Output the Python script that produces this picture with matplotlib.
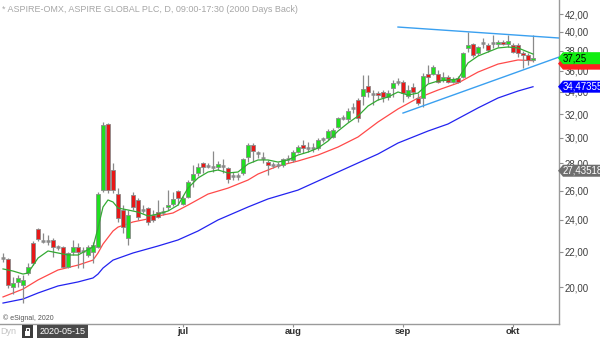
import numpy as np
import matplotlib.pyplot as plt
from matplotlib.patches import Polygon, Rectangle
from matplotlib.transforms import IdentityTransform

plt.rcParams['font.family'] = ['Liberation Sans', 'DejaVu Sans']

# daily candles ASPIRE-OMX, 2020-05-11 .. 2020-10-07
opens = [21.67, 21.58, 20.00, 20.28, 20.11, 20.78, 22.54, 23.41, 22.67, 22.67,
         22.73, 22.30, 22.30, 21.12, 22.00, 22.30, 22.06, 21.82, 22.00, 22.30,
         26.03, 31.15, 27.49, 25.75, 24.66, 22.85, 25.68, 25.34, 24.66, 24.79,
         24.32, 24.52, 24.52, 24.86, 25.06, 25.96, 25.06, 25.54, 26.75, 27.27,
         28.02, 27.79, 27.71, 27.71, 27.79, 27.64, 27.05, 27.05, 27.27, 28.48,
         29.42, 28.79, 28.40, 28.09, 27.86, 27.86, 27.86, 28.33, 28.25, 28.86,
         29.42, 29.18, 29.18, 29.18, 29.90, 29.98, 30.07, 30.89, 31.66, 31.58,
         32.54, 33.25, 33.61, 34.53, 33.79, 33.88, 33.98, 33.52, 34.34, 34.91,
         34.91, 33.61, 34.44, 33.43, 33.43, 35.67, 35.67, 35.67, 35.10, 35.39,
         34.91, 35.29, 35.39, 38.30, 38.71, 37.77, 38.82, 38.61, 38.82, 38.71,
         38.93, 38.71, 38.61, 38.61, 37.77, 37.57, 37.07]
highs = [21.94, 21.64, 20.55, 20.66, 20.66, 21.35, 22.67, 23.48, 23.16, 23.04,
         22.85, 22.42, 22.36, 22.00, 22.73, 22.54, 22.30, 22.42, 22.60, 25.89,
         31.32, 31.23, 28.02, 26.17, 24.99, 24.66, 25.89, 25.48, 24.99, 24.86,
         24.66, 25.34, 24.86, 26.03, 25.89, 26.03, 25.61, 26.75, 27.86, 28.02,
         28.09, 28.02, 28.94, 28.17, 28.33, 27.71, 27.34, 27.27, 28.40, 29.58,
         29.58, 28.94, 28.86, 28.25, 28.09, 28.09, 28.40, 28.63, 29.02, 29.42,
         29.82, 29.66, 29.58, 29.98, 30.07, 30.72, 30.81, 31.75, 31.92, 32.54,
         32.98, 33.43, 35.58, 35.58, 34.16, 34.07, 34.16, 34.16, 35.10, 35.29,
         35.10, 34.63, 34.82, 33.88, 35.77, 36.56, 36.56, 36.07, 35.87, 35.58,
         35.39, 35.48, 37.88, 40.00, 38.82, 38.51, 39.35, 38.82, 39.67, 39.14,
         39.14, 39.67, 38.82, 38.82, 37.98, 37.77, 39.67]
lows = [21.40, 19.95, 19.62, 20.00, 19.15, 20.66, 21.23, 22.67, 22.54, 22.42,
        21.70, 22.12, 21.06, 21.06, 21.82, 21.06, 21.06, 21.70, 21.35, 22.24,
        25.89, 25.82, 25.82, 23.87, 23.16, 22.42, 24.66, 24.00, 24.46, 23.67,
        23.87, 24.13, 24.32, 24.66, 24.92, 24.99, 24.99, 25.48, 26.25, 27.05,
        27.27, 27.64, 27.34, 27.49, 27.27, 26.53, 26.75, 26.75, 27.12, 28.09,
        28.09, 28.40, 28.02, 27.12, 27.64, 27.64, 27.71, 28.02, 28.09, 28.79,
        28.79, 28.86, 28.86, 29.02, 29.66, 29.82, 29.98, 30.81, 31.49, 31.32,
        32.10, 31.32, 32.80, 33.52, 32.80, 33.25, 33.07, 33.25, 33.52, 34.63,
        33.07, 33.43, 33.43, 32.80, 32.62, 34.82, 35.58, 34.82, 34.91, 34.82,
        34.82, 34.82, 35.29, 37.88, 37.37, 37.57, 38.30, 37.88, 38.30, 38.40,
        38.61, 38.40, 37.77, 37.37, 36.27, 36.56, 36.87]
closes = [21.67, 20.11, 20.22, 20.50, 20.39, 21.12, 21.35, 22.79, 22.67, 22.67,
          22.30, 22.30, 21.12, 21.94, 22.30, 22.00, 22.06, 22.30, 22.42, 25.75,
          31.06, 26.03, 26.03, 24.13, 23.54, 24.32, 24.86, 24.19, 24.66, 23.87,
          24.00, 24.19, 24.52, 24.99, 25.41, 25.48, 25.48, 26.61, 27.19, 27.71,
          27.71, 27.79, 27.71, 27.94, 27.79, 26.82, 27.05, 27.05, 28.33, 29.42,
          28.94, 28.79, 28.40, 27.86, 27.86, 27.86, 28.33, 28.33, 28.86, 29.26,
          29.18, 29.18, 29.18, 29.82, 29.90, 30.56, 30.64, 31.66, 31.66, 32.27,
          32.54, 31.66, 34.25, 33.98, 33.79, 33.70, 33.52, 33.88, 34.82, 34.91,
          33.88, 34.16, 33.98, 32.98, 35.48, 35.39, 36.36, 34.91, 35.39, 34.91,
          35.20, 34.91, 37.77, 38.61, 37.57, 38.40, 38.82, 38.09, 38.82, 38.93,
          38.71, 39.03, 37.88, 37.77, 37.57, 37.07, 37.25]

# moving averages (bar index, value)
green_idx = [0, 2, 4, 5, 7, 9, 11, 13, 15, 18, 19, 20, 21, 22, 23, 25, 27, 29, 31, 33,
             35, 37, 39, 41, 43, 45, 47, 49, 51, 53, 55, 57, 59, 61, 63, 65, 67, 69, 71, 73,
             75, 77, 79, 81, 83, 85, 87, 89, 91, 92, 93, 95, 97, 99, 101, 103, 105, 106]
green_ma = [21.01, 20.89, 20.72, 20.78, 21.64, 22.06, 21.94, 21.82, 21.82, 22.30,
            23.48, 24.86, 25.34, 25.20, 24.79, 24.66, 24.52, 24.26, 24.39, 24.59,
            24.99, 26.17, 26.90, 27.34, 27.49, 27.27, 27.34, 27.94, 28.25, 28.25,
            28.09, 28.25, 28.63, 28.86, 29.18, 29.74, 30.56, 31.23, 31.83, 32.71,
            33.25, 33.52, 33.98, 33.70, 33.88, 34.72, 35.01, 35.10, 35.20, 35.97,
            36.77, 37.47, 37.88, 38.30, 38.40, 38.30, 37.88, 37.67]
red_idx = [0, 4, 7, 11, 15, 18, 19, 20, 22, 23, 26, 29, 31, 34, 37, 41, 45, 49, 51, 53,
           55, 59, 63, 67, 71, 75, 79, 83, 87, 91, 95, 99, 103, 106]
red_ma = [19.47, 19.89, 20.39, 20.95, 21.23, 21.52, 21.94, 22.48, 23.29, 23.54,
          23.87, 24.07, 24.26, 24.46, 24.99, 25.75, 26.17, 26.75, 27.19, 27.49,
          27.79, 28.17, 28.63, 29.26, 30.07, 31.32, 32.45, 33.43, 34.16, 34.82,
          35.87, 36.66, 37.07, 37.00]
blue_idx = [0, 4, 7, 11, 15, 18, 19, 20, 22, 26, 31, 35, 39, 43, 49, 53, 59, 63, 67, 71,
            75, 79, 85, 89, 95, 99, 103, 106]
blue_ma = [19.15, 19.36, 19.68, 20.06, 20.28, 20.50, 20.72, 21.06, 21.52, 21.94,
           22.36, 22.73, 23.29, 24.00, 24.86, 25.41, 26.03, 26.68, 27.34, 28.02,
           28.71, 29.58, 30.56, 31.15, 32.54, 33.43, 34.07, 34.47]

# trend lines (bar index, price)
upper_idx = [79, 112]
upper_val = [40.54, 39.32]
lower_idx = [80, 112]
lower_val = [32.09, 37.51]

# right side price flags
flag_vals = [37.00, 37.25, 34.47355, 27.43518]
flag_text = ['', '37,25', '34,47355', '27,43518']
flag_fc = ['#ff2020', '#11ee11', '#0000ff', '#6e6e6e']
flag_tc = ['white', 'black', 'white', 'white']

ytick_vals = [20, 22, 24, 26, 28, 30, 32, 34, 36, 38, 40, 42]
ytick_labels = ['%d,00' % v for v in ytick_vals]
month_pos = [15, 36, 58, 80, 102]
month_labels = ['', 'jul', 'aug', 'sep', 'okt']

fig = plt.figure(figsize=(6.0, 3.39), dpi=100)
ax = fig.add_axes([0, 15/339, 559/600, 324/339])

edge = '#8a8a8a'
for i in range(len(closes)):
    o, h, l, c = opens[i], highs[i], lows[i], closes[i]
    ax.vlines(i, l, h, color=edge, lw=0.9, zorder=2)
    if c == o:
        ax.hlines(c, i - 0.32, i + 0.32, color=edge, lw=1.8, zorder=3)
        continue
    col = '#1fe01f' if c > o else '#e81818'
    ax.bar(i, abs(c - o), bottom=min(o, c), width=0.66, color=col,
           edgecolor=edge, lw=0.6, zorder=3)

ax.plot(blue_idx, blue_ma, color='#2323f0', lw=0.9, zorder=1)
ax.plot(red_idx, red_ma, color='#ff4a4a', lw=0.9, zorder=1)
ax.plot(green_idx, green_ma, color='#33aa33', lw=0.9, zorder=4)
ax.plot(upper_idx, upper_val, color='#3aa0f0', lw=1.0, zorder=5)
ax.plot(lower_idx, lower_val, color='#3aa0f0', lw=1.0, zorder=5)

ax.set_yscale('log')
ax.set_xlim(-0.6, 111.2)
ax.set_ylim(18.09, 43.63)
ax.yaxis.tick_right()
ax.set_yticks(ytick_vals, labels=ytick_labels)
ax.set_xticks(month_pos, labels=month_labels)
ax.minorticks_off()
ax.tick_params(axis='y', direction='out', length=3, width=0.8, color='#909090',
               labelsize=7, labelcolor='#404040', pad=1)
ax.tick_params(axis='x', direction='out', length=2.5, width=0.8, color='#909090',
               labelsize=6.8, labelcolor='#303030', pad=0)
for t in ax.get_xticklabels():
    t.set_fontweight('bold')
for s in ['top', 'left']:
    ax.spines[s].set_visible(False)
for s in ['right', 'bottom']:
    ax.spines[s].set_color('#9a9a9a')
    ax.spines[s].set_linewidth(1.0)

# price flags on the right axis, drawn in pixels
x1 = ax.bbox.x1
for v, s, fc, tc in zip(flag_vals, flag_text, flag_fc, flag_tc):
    yp = ax.transData.transform((0, v))[1]
    if s == '':
        yp -= 3
    verts = [(x1 - 1, yp), (x1 + 4, yp + 6), (600, yp + 6), (600, yp - 6), (x1 + 4, yp - 6)]
    fig.add_artist(Polygon(verts, closed=True, fc=fc, ec='none', transform=IdentityTransform(), zorder=10))
    if s:
        fig.text(x1 + 4, yp, s, color=tc, fontsize=7, va='center', ha='left',
                 transform=IdentityTransform(), zorder=11)

fig.text(2/600, 1 - 10/339, '* ASPIRE-OMX, ASPIRE GLOBAL PLC, D, 09:00-17:30 (2000 Days Back)',
         fontsize=6.5, color='#a6a6a6', va='center', ha='left')
fig.text(3/600, 1 - 318/339, '\u00a9 eSignal, 2020', fontsize=5, color='#555555',
         va='center', ha='left')

# bottom left controls
fig.text(0, 8/339, 'Dyn', fontsize=6.5, color='#c4c4c4', va='center', ha='left')
fig.add_artist(Rectangle((22, 1), 11, 13, fc='#3c3c3c', ec='none', transform=IdentityTransform()))
fig.add_artist(Rectangle((25, 3), 5, 5, fc='white', ec='none', transform=IdentityTransform()))
fig.add_artist(Rectangle((26, 8), 3, 3.5, fc='none', ec='white', lw=0.8, transform=IdentityTransform()))
fig.add_artist(Rectangle((37, 1), 51, 13, fc='#4a4a4a', ec='none', transform=IdentityTransform()))
fig.text(62.5, 7.5, '2020-05-15', fontsize=6.5, color='white', va='center', ha='center',
         transform=IdentityTransform())

fig.savefig('out.png', dpi=100)
